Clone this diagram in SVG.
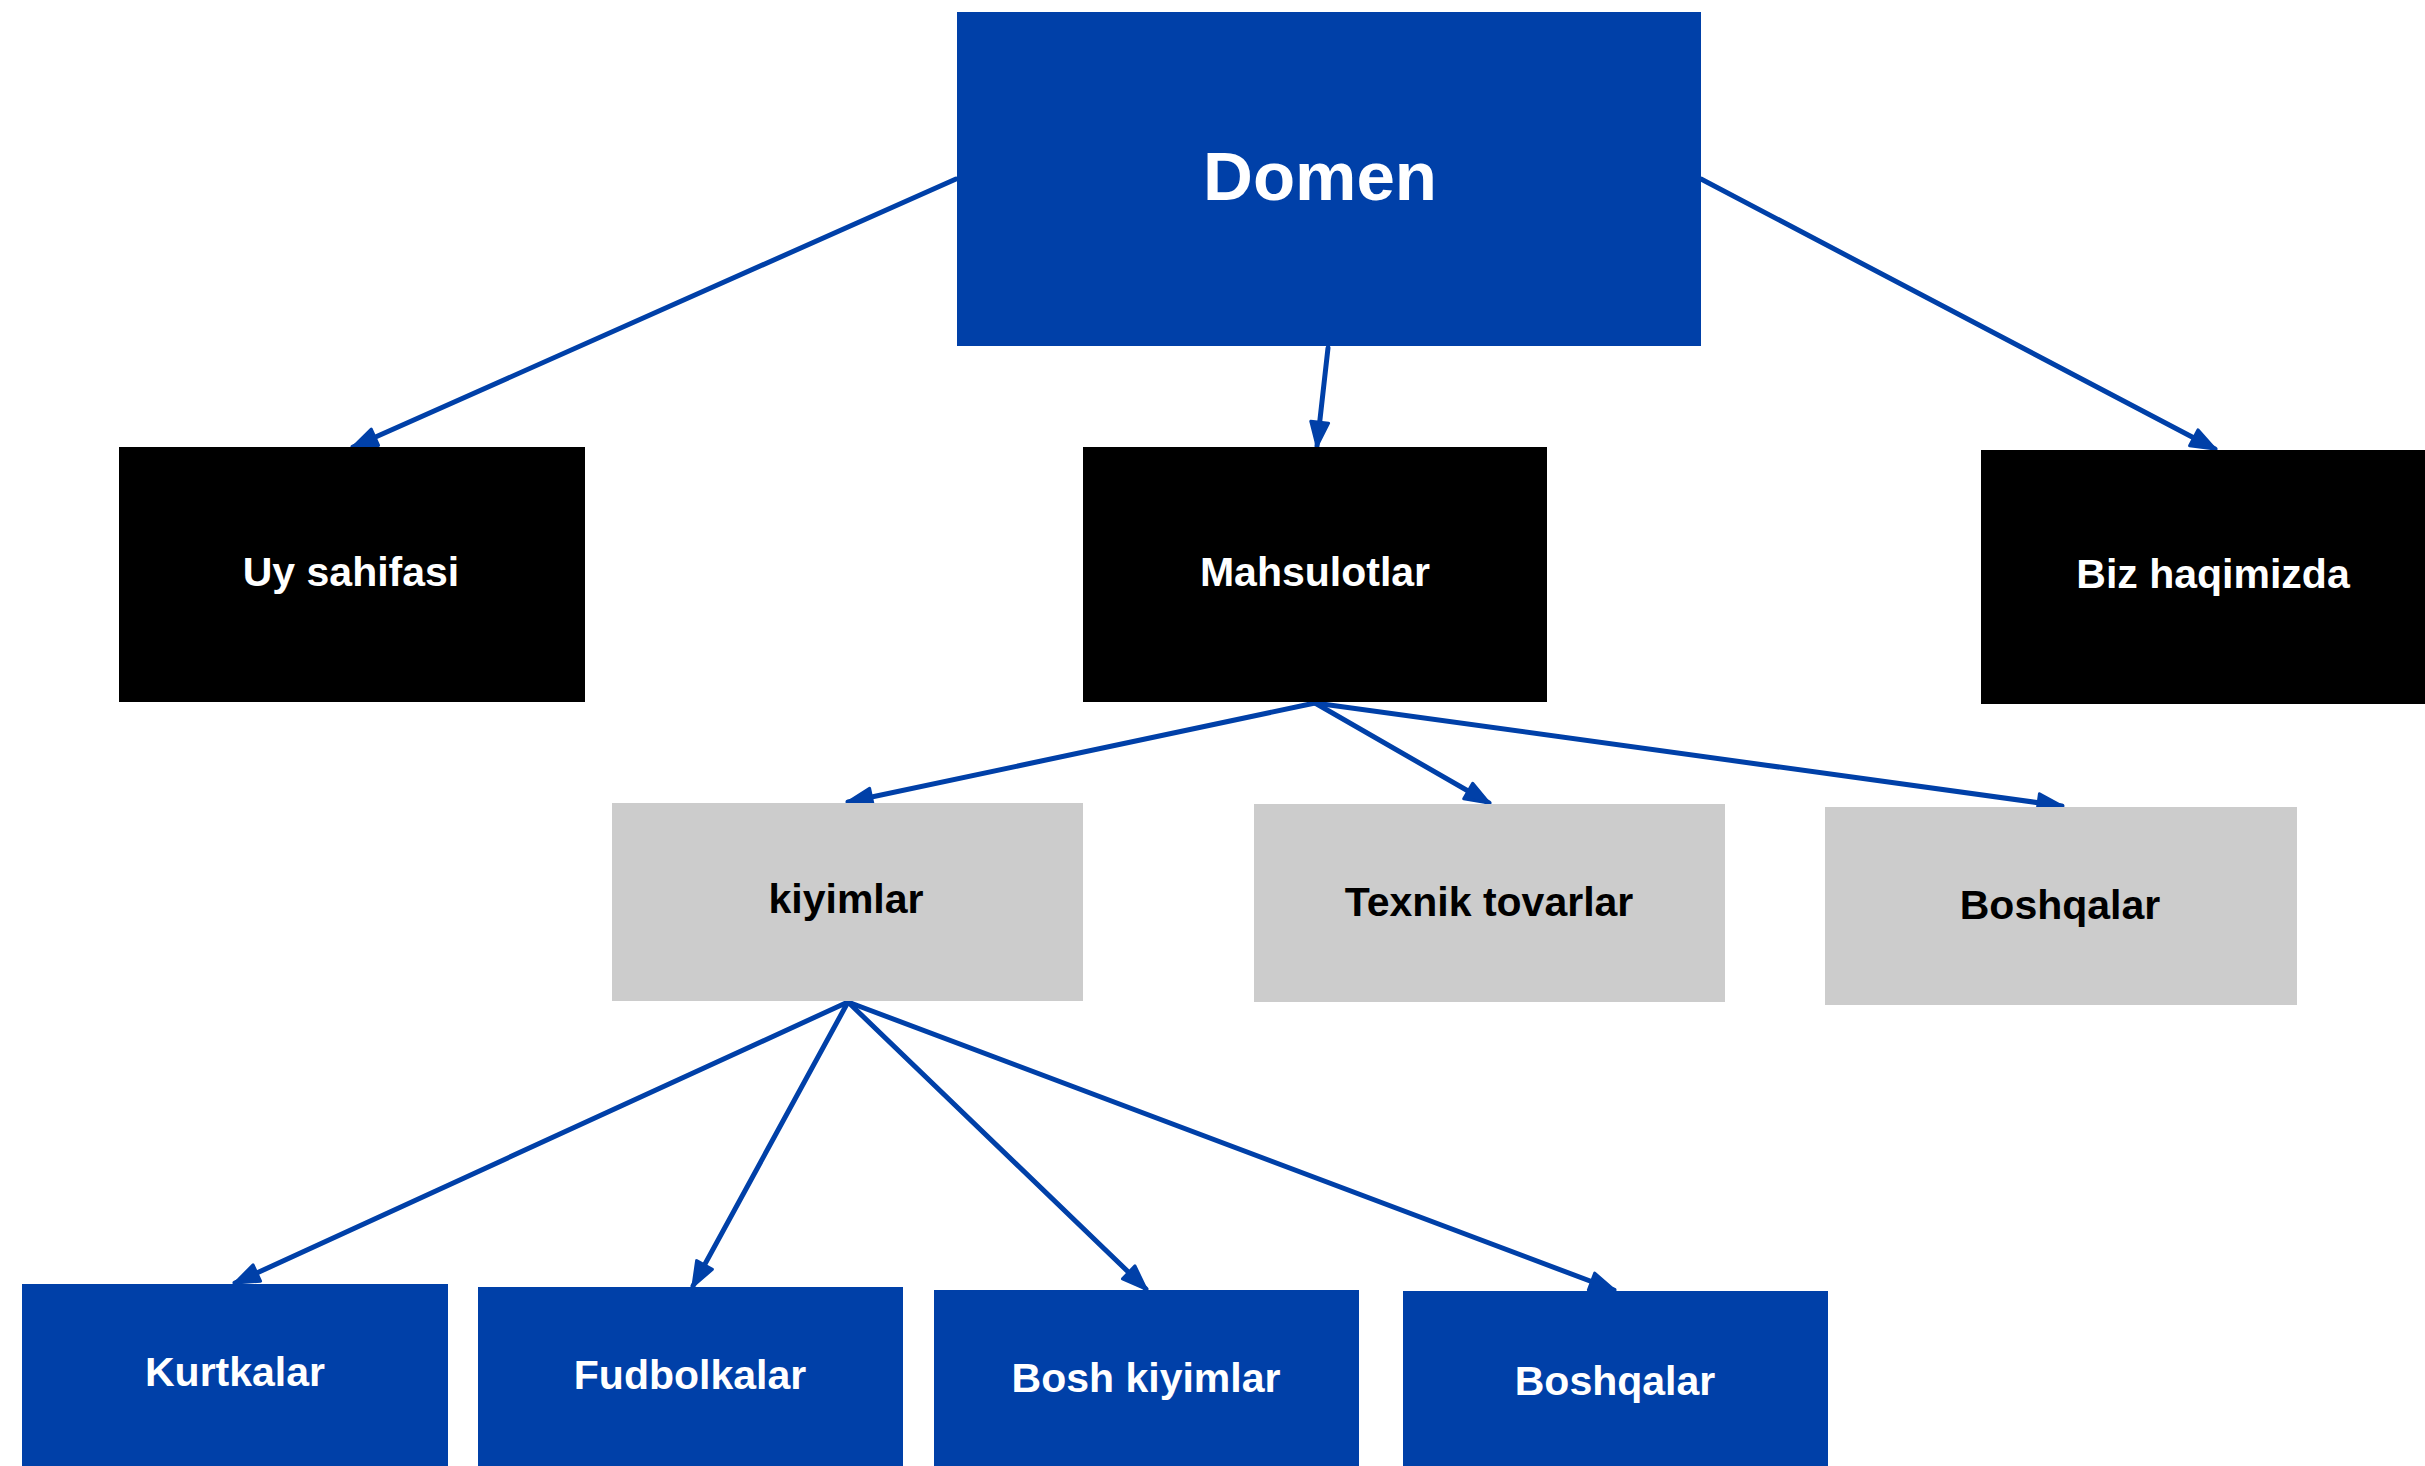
<svg xmlns="http://www.w3.org/2000/svg" width="2425" height="1466" viewBox="0 0 2425 1466">
<style>
.blue{fill:#0040A8}
.black{fill:#000000}
.gray{fill:#CCCCCC}
text{font-family:"Liberation Sans",Arial,sans-serif;font-weight:bold;text-anchor:middle}
.w{fill:#FFFFFF}
.k{fill:#000000}
.lbl{font-size:41px}
.conn{stroke:#0040A8;stroke-width:5;fill:none;stroke-linecap:round}
</style>
<defs>
<marker id="arr" markerUnits="userSpaceOnUse" markerWidth="30" markerHeight="26" viewBox="0 0 30 26" refX="27" refY="13" orient="auto">
<path d="M3,4 L27,13 L3,22 Z" fill="#0040A8" stroke="#0040A8" stroke-width="3" stroke-linejoin="round"/>
</marker>
</defs>
<rect width="2425" height="1466" fill="#FFFFFF"/>
<g id="connectors">
<line class="conn" x1="956" y1="179" x2="353" y2="447" marker-end="url(#arr)"/>
<line class="conn" x1="1328" y1="348" x2="1317" y2="446" marker-end="url(#arr)"/>
<line class="conn" x1="1701" y1="179" x2="2215" y2="449" marker-end="url(#arr)"/>
<line class="conn" x1="1315" y1="703" x2="848" y2="802" marker-end="url(#arr)"/>
<line class="conn" x1="1315" y1="703" x2="1489" y2="803" marker-end="url(#arr)"/>
<line class="conn" x1="1315" y1="703" x2="2062" y2="806" marker-end="url(#arr)"/>
<line class="conn" x1="848" y1="1002" x2="235" y2="1283" marker-end="url(#arr)"/>
<line class="conn" x1="848" y1="1002" x2="693" y2="1286" marker-end="url(#arr)"/>
<line class="conn" x1="848" y1="1002" x2="1146" y2="1289" marker-end="url(#arr)"/>
<line class="conn" x1="848" y1="1002" x2="1614" y2="1290" marker-end="url(#arr)"/>
</g>
<g id="node-domen">
<rect class="blue" x="957" y="12" width="744" height="334"/>
<text class="w" x="1320" y="200" font-size="69">Domen</text>
</g>
<g id="node-uy-sahifasi">
<rect class="black" x="119" y="447" width="466" height="255"/>
<text class="w lbl" x="351" y="586">Uy sahifasi</text>
</g>
<g id="node-mahsulotlar">
<rect class="black" x="1083" y="447" width="464" height="255"/>
<text class="w lbl" x="1315" y="586">Mahsulotlar</text>
</g>
<g id="node-biz-haqimizda">
<rect class="black" x="1981" y="450" width="444" height="254"/>
<text class="w lbl" x="2213" y="588">Biz haqimizda</text>
</g>
<g id="node-kiyimlar">
<rect class="gray" x="612" y="803" width="471" height="198"/>
<text class="k lbl" x="846" y="913">kiyimlar</text>
</g>
<g id="node-texnik-tovarlar">
<rect class="gray" x="1254" y="804" width="471" height="198"/>
<text class="k lbl" x="1489" y="916">Texnik tovarlar</text>
</g>
<g id="node-boshqalar-1">
<rect class="gray" x="1825" y="807" width="472" height="198"/>
<text class="k lbl" x="2060" y="919">Boshqalar</text>
</g>
<g id="node-kurtkalar">
<rect class="blue" x="22" y="1284" width="426" height="182"/>
<text class="w lbl" x="235" y="1386">Kurtkalar</text>
</g>
<g id="node-fudbolkalar">
<rect class="blue" x="478" y="1287" width="425" height="179"/>
<text class="w lbl" x="690" y="1389">Fudbolkalar</text>
</g>
<g id="node-bosh-kiyimlar">
<rect class="blue" x="934" y="1290" width="425" height="176"/>
<text class="w lbl" x="1146" y="1392">Bosh kiyimlar</text>
</g>
<g id="node-boshqalar-2">
<rect class="blue" x="1403" y="1291" width="425" height="175"/>
<text class="w lbl" x="1615" y="1395">Boshqalar</text>
</g>
</svg>
